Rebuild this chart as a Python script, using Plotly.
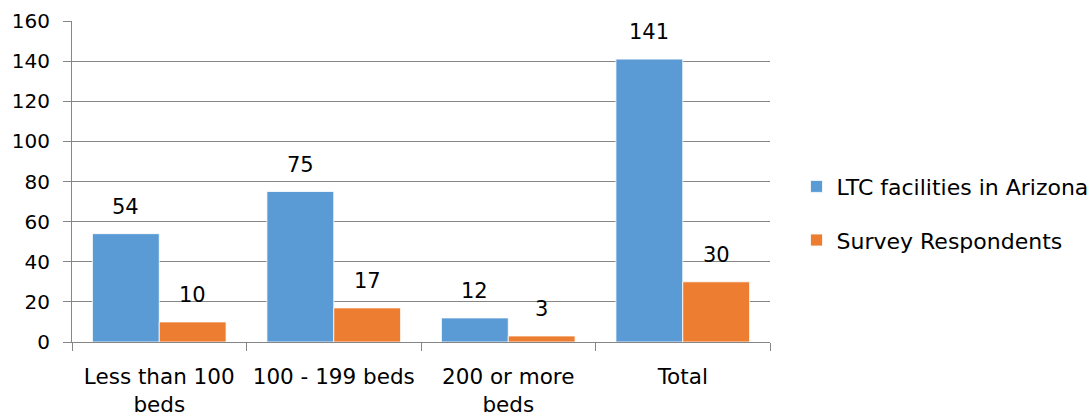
import plotly.graph_objects as go

categories = ["Less than 100<br>beds", "100 - 199 beds", "200 or more<br>beds", "Total"]
ltc_facilities = [54, 75, 12, 141]
survey_respondents = [10, 17, 3, 30]
series_names = ["LTC facilities in Arizona", "Survey Respondents"]
colors = ["#5B9BD5", "#ED7D31"]
y_ticks = [0, 20, 40, 60, 80, 100, 120, 140, 160]

FONT = "'DejaVu Sans', 'Open Sans', sans-serif"
bargap = 0.234

fig = go.Figure()
for i, (name, vals) in enumerate(zip(series_names, [ltc_facilities, survey_respondents])):
    fig.add_trace(go.Bar(
        x=categories, y=vals, name=name, marker_color=colors[i],
        marker_line=dict(color="white", width=0.8), legendgroup=name,
    ))

# data labels above bars
bw = (1 - bargap) / 2
for s, vals in enumerate([ltc_facilities, survey_respondents]):
    off = -bw / 2 if s == 0 else bw / 2
    for ci, v in enumerate(vals):
        fig.add_annotation(x=ci + off, y=v, xref="x", yref="y", text=str(v),
                           showarrow=False, yanchor="bottom", yshift=13,
                           font=dict(family=FONT, size=21, color="#000"))

fig.update_layout(
    width=1092, height=417,
    margin=dict(l=72, r=322, t=21, b=75, autoexpand=False),
    paper_bgcolor="white", plot_bgcolor="white",
    barmode="group", bargap=bargap, bargroupgap=0,
    font=dict(family=FONT, size=20, color="#000"),
    legend=dict(x=1.038, y=0.4, xanchor="left", yanchor="middle",
                font=dict(family=FONT, size=22, color="#000"),
                tracegroupgap=22, itemwidth=30),
    showlegend=True,
)
fig.update_xaxes(
    type="category", showline=True, linecolor="#868686", linewidth=1,
    ticks="outside", tickson="boundaries", ticklen=8, tickcolor="#868686",
    showgrid=False, tickfont=dict(family=FONT, size=21.5, color="#000"),
    ticklabelstandoff=15, automargin=False,
)
fig.update_yaxes(
    range=[0, 160], tickvals=y_ticks, showline=True, linecolor="#868686", linewidth=1,
    ticks="outside", ticklen=8, tickcolor="#868686",
    showgrid=True, gridcolor="#868686", gridwidth=1, zeroline=False,
    tickfont=dict(family=FONT, size=20, color="#000"), ticklabelstandoff=9,
    automargin=False,
)

fig.write_html("out.html", config={"displayModeBar": False},
               post_script="document.body.style.margin='0';")
